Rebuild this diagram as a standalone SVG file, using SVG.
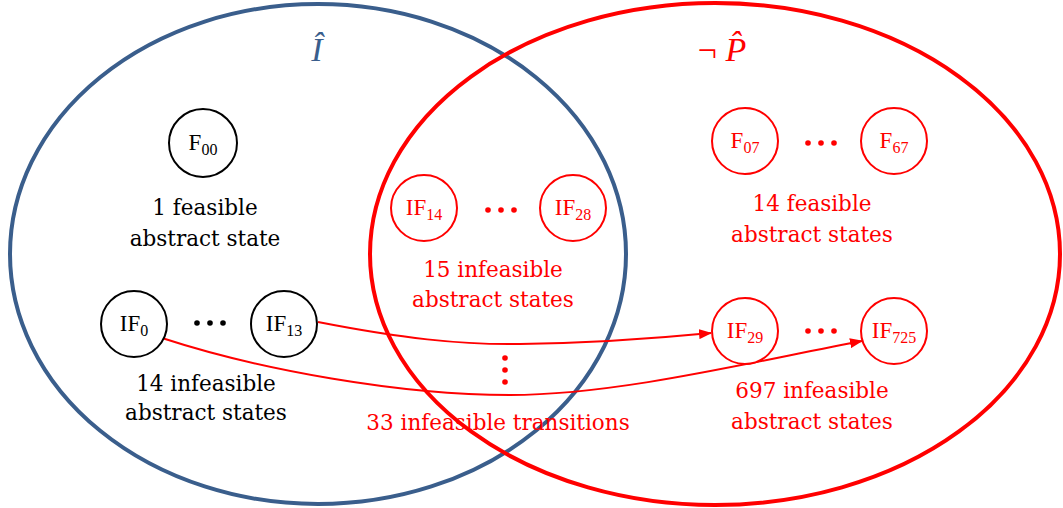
<svg xmlns="http://www.w3.org/2000/svg" width="1063" height="508" viewBox="0 0 1063 508">
<style>
.t{font-family:"DejaVu Serif","Liberation Serif",serif;font-size:21.5px;text-anchor:middle}
.n{font-family:"Liberation Serif","DejaVu Serif",serif;font-size:23px;text-anchor:middle}
.s{font-size:16px}
.k{fill:#000}
.r{fill:#ff0000}
.cb{fill:#fff;stroke:#000;stroke-width:2}
.cr{fill:#fff;stroke:#ff0000;stroke-width:2}
.conn{fill:none;stroke:#ff0000;stroke-width:2}
</style>
<defs>
<marker id="ah" markerWidth="13" markerHeight="10" refX="12" refY="5" orient="auto" markerUnits="userSpaceOnUse" viewBox="0 0 13 10">
<path d="M0,0 L13,5 L0,10 z" fill="#ff0000"/>
</marker>
</defs>
<rect width="1063" height="508" fill="#fff"/>
<ellipse id="setI" cx="318" cy="254" rx="308" ry="250" fill="none" stroke="#3A5E8C" stroke-width="4"/>
<ellipse id="setP" cx="715" cy="254" rx="345" ry="251" fill="none" stroke="#ff0000" stroke-width="4"/>
<text x="317" y="61" font-family="Liberation Serif,serif" font-style="italic" font-size="34" fill="#3A5E8C" text-anchor="middle">Î</text>
<text x="722" y="61" font-family="Liberation Serif,serif" font-size="34" fill="#ff0000" text-anchor="middle">¬ <tspan font-style="italic">P̂</tspan></text>

<g id="connectors">
<path class="conn" d="M318,322 C400,338 460,345 520,344 C600,343 660,338 711,333" marker-end="url(#ah)"/>
<path class="conn" d="M162,338 C260,370 400,395 510,395 C620,395 760,360 862,341" marker-end="url(#ah)"/>
</g>

<g id="F00"><circle class="cb" cx="203" cy="143" r="34"/><text class="n k" x="203" y="150">F<tspan class="s" dy="5">00</tspan></text></g>
<g id="IF0"><circle class="cb" cx="134" cy="324" r="33"/><text class="n k" x="134" y="331">IF<tspan class="s" dy="5">0</tspan></text></g>
<g id="IF13"><circle class="cb" cx="284" cy="324" r="33"/><text class="n k" x="284" y="331">IF<tspan class="s" dy="5">13</tspan></text></g>
<g id="IF14"><circle class="cr" cx="424" cy="208" r="33"/><text class="n r" x="424" y="215">IF<tspan class="s" dy="5">14</tspan></text></g>
<g id="IF28"><circle class="cr" cx="573" cy="208" r="33"/><text class="n r" x="573" y="215">IF<tspan class="s" dy="5">28</tspan></text></g>
<g id="F07"><circle class="cr" cx="745" cy="141" r="33"/><text class="n r" x="745" y="148">F<tspan class="s" dy="5">07</tspan></text></g>
<g id="F67"><circle class="cr" cx="894" cy="141" r="33"/><text class="n r" x="894" y="148">F<tspan class="s" dy="5">67</tspan></text></g>
<g id="IF29"><circle class="cr" cx="745" cy="331" r="33"/><text class="n r" x="745" y="338">IF<tspan class="s" dy="5">29</tspan></text></g>
<g id="IF725"><circle class="cr" cx="894" cy="331" r="33"/><text class="n r" x="894" y="338">IF<tspan class="s" dy="5">725</tspan></text></g>

<g id="dots">
<circle cx="197" cy="323" r="2.8"/><circle cx="210" cy="323" r="2.8"/><circle cx="223" cy="323" r="2.8"/>
<g fill="#ff0000">
<circle cx="488" cy="210" r="2.8"/><circle cx="501" cy="210" r="2.8"/><circle cx="514" cy="210" r="2.8"/>
<circle cx="808" cy="143" r="2.8"/><circle cx="821" cy="143" r="2.8"/><circle cx="834" cy="143" r="2.8"/>
<circle cx="808" cy="331" r="2.8"/><circle cx="821" cy="331" r="2.8"/><circle cx="834" cy="331" r="2.8"/>
<circle cx="505" cy="358" r="2.8"/><circle cx="505" cy="370" r="2.8"/><circle cx="505" cy="382" r="2.8"/>
</g>
</g>

<g id="labels">
<text class="t k" x="205" y="215">1 feasible</text>
<text class="t k" x="205" y="246">abstract state</text>
<text class="t k" x="206" y="391">14 infeasible</text>
<text class="t k" x="206" y="420">abstract states</text>
<text class="t r" x="493" y="277">15 infeasible</text>
<text class="t r" x="493" y="307">abstract states</text>
<text class="t r" x="812" y="211">14 feasible</text>
<text class="t r" x="812" y="242">abstract states</text>
<text class="t r" x="812" y="398">697 infeasible</text>
<text class="t r" x="812" y="429">abstract states</text>
<text class="t r" x="498" y="430">33 infeasible transitions</text>
</g>
</svg>
